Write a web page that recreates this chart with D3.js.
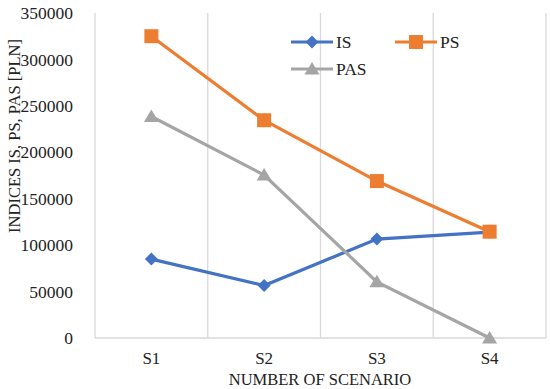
<!DOCTYPE html>
<html><head><meta charset="utf-8">
<script src="https://cdn.jsdelivr.net/npm/d3@7"></script>
<style>body{margin:0;background:#fff}svg text{font-family:"Liberation Serif","DejaVu Serif",serif !important;fill:#222}</style>
</head><body><svg id="c" width="550" height="389"></svg>
<script>
const categories = ["S1","S2","S3","S4"];
const isValues  = [85000, 56500, 106500, 114000];
const psValues  = [325000, 234500, 169000, 114500];
const pasValues = [238500, 175500, 60500, 0];
const yTicks = [0,50000,100000,150000,200000,250000,300000,350000];
const seriesNames = ["IS","PS","PAS"];
const colors = {IS:"#4472c4", PS:"#ed7d31", PAS:"#a5a5a5"};

const svg = d3.select("#c");
const m = {l:95, r:546, t:13, b:338};
const x = d3.scaleBand().domain(categories).range([m.l, m.r]);
const y = d3.scaleLinear().domain([0,350000]).range([m.b, m.t]);

const bounds = categories.map(c => x(c) + x.bandwidth());
svg.selectAll(".vg").data(bounds).enter().append("line")
  .attr("x1", d=>d).attr("x2", d=>d).attr("y1", m.t).attr("y2", m.b)
  .attr("stroke", "#d9d9d9").attr("stroke-width", 1.3);
svg.append("line").attr("x1", m.l).attr("x2", m.l).attr("y1", m.t).attr("y2", m.b).attr("stroke","#d9d9d9").attr("stroke-width",1.3);
svg.append("line").attr("x1", m.l).attr("x2", m.r).attr("y1", m.b).attr("y2", m.b).attr("stroke","#d9d9d9").attr("stroke-width",1.3);

const yAxis = d3.axisLeft(y).tickValues(yTicks).tickSize(0).tickPadding(22).tickFormat(d3.format("d"));
const ga = svg.append("g").attr("transform", `translate(${m.l},0)`).call(yAxis);
ga.attr("font-family", null).attr("font-size", null);
ga.select(".domain").remove();
ga.selectAll("text").style("font-size","17.5px").attr("fill","#222");

const xAxis = d3.axisBottom(x).tickSize(0).tickPadding(14);
const gx = svg.append("g").attr("transform", `translate(0,${m.b})`).call(xAxis);
gx.attr("font-family", null).attr("font-size", null);
gx.select(".domain").remove();
gx.selectAll("text").style("font-size","17px").attr("fill","#222");

svg.append("text").attr("x", 320).attr("y", 385).attr("text-anchor","middle")
  .style("font-size","16.5px").text("NUMBER OF SCENARIO");
svg.append("text").attr("transform", `translate(20,136) rotate(-90)`).attr("text-anchor","middle")
  .style("font-size","16.5px").text("INDICES IS, PS, PAS [PLN]");

const data = {IS: isValues, PS: psValues, PAS: pasValues};
const cx = c => x(c) + x.bandwidth()/2;
const line = d3.line().x((d,i)=>cx(categories[i])).y(d=>y(d));

function marker(g, name, px, py) {
  if (name === "IS") {
    const h = 6.5;
    g.append("path").attr("d", `M${px},${py-h}L${px+h},${py}L${px},${py+h}L${px-h},${py}Z`).attr("fill", colors.IS);
  } else if (name === "PS") {
    g.append("rect").attr("x", px-7).attr("y", py-7).attr("width", 14).attr("height", 14).attr("fill", colors.PS);
  } else {
    g.append("path").attr("d", `M${px},${py-7}L${px+7.5},${py+5.5}L${px-7.5},${py+5.5}Z`).attr("fill", colors.PAS);
  }
}

["IS","PAS","PS"].forEach(name => {
  const g = svg.append("g");
  g.append("path").datum(data[name]).attr("d", line).attr("fill","none").attr("stroke", colors[name]).attr("stroke-width", 3.2);
  data[name].forEach((v,i) => marker(g, name, cx(categories[i]), y(v)));
});

const leg = [{n:"IS", x:291, y:42},{n:"PS", x:395, y:42},{n:"PAS", x:291, y:69}];
leg.forEach(l => {
  const g = svg.append("g");
  g.append("line").attr("x1", l.x).attr("x2", l.x+42).attr("y1", l.y).attr("y2", l.y).attr("stroke", colors[l.n]).attr("stroke-width", 3.2);
  marker(g, l.n, l.x+21, l.y);
  g.append("text").attr("x", l.x+45).attr("y", l.y+6).style("font-size","17.5px").text(l.n);
});
</script></body></html>
